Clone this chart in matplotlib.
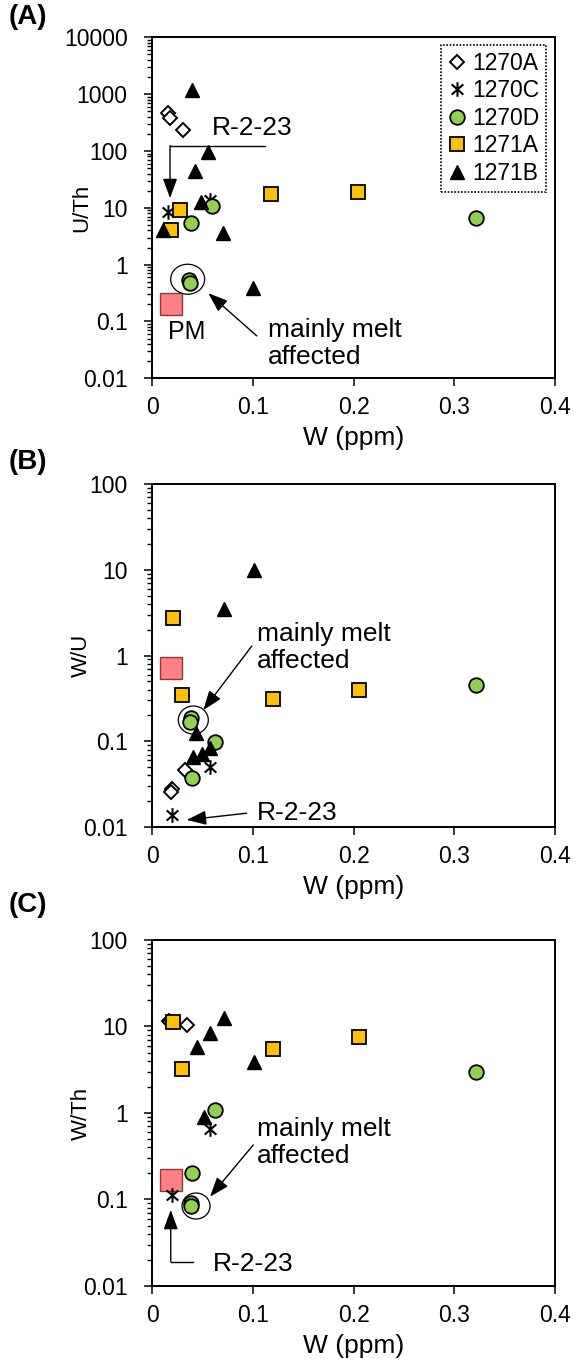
import matplotlib
matplotlib.use('Agg')
import matplotlib.pyplot as plt
import matplotlib.transforms as mtransforms
from matplotlib.path import Path
from matplotlib.patches import Ellipse
from matplotlib.ticker import LogLocator, FixedLocator, FuncFormatter, NullFormatter

plt.rcParams['font.family'] = ['Liberation Sans', 'DejaVu Sans']
TICK_FS = 16.5
YLAB_FS = 16
XLAB_FS = 19
NOTE_FS = 19

########## Data (W in ppm) ##########

groups = ['1270A', '1270C', '1270D', '1271A', '1271B']

# (A) U/Th
a_w = {
    '1270A': [0.016, 0.018, 0.031],
    '1270C': [0.016, 0.058],
    '1270D': [0.060, 0.039, 0.037, 0.038, 0.322],
    '1271A': [0.028, 0.019, 0.118, 0.204],
    '1271B': [0.040, 0.056, 0.043, 0.049, 0.011, 0.070, 0.100],
}
a_val = {
    '1270A': [460, 380, 234],
    '1270C': [8.6, 13.9],
    '1270D': [10.8, 5.5, 0.54, 0.47, 6.6],
    '1271A': [9.2, 4.1, 17.6, 19.3],
    '1271B': [1190, 94, 45, 12.9, 4.1, 3.6, 0.38],
}
a_pm = [0.019, 0.20]

# (B) W/U
b_w = {
    '1270A': [0.033, 0.0195, 0.019],
    '1270C': [0.058, 0.0195],
    '1270D': [0.039, 0.038, 0.0625, 0.040, 0.322],
    '1271A': [0.0205, 0.030, 0.120, 0.205],
    '1271B': [0.1015, 0.0715, 0.0437, 0.0576, 0.041, 0.050],
}
b_val = {
    '1270A': [0.046, 0.0277, 0.0258],
    '1270C': [0.050, 0.0138],
    '1270D': [0.185, 0.17, 0.099, 0.037, 0.45],
    '1271A': [2.76, 0.35, 0.31, 0.40],
    '1271B': [9.9, 3.46, 0.124, 0.083, 0.066, 0.072],
}
b_pm = [0.019, 0.71]

# (C) W/Th
c_w = {
    '1270A': [0.017, 0.018, 0.0344],
    '1270C': [0.058, 0.0195],
    '1270D': [0.0625, 0.040, 0.039, 0.039, 0.322],
    '1271A': [0.0205, 0.030, 0.120, 0.205],
    '1271B': [0.0718, 0.0576, 0.0444, 0.1015, 0.052],
}
c_val = {
    '1270A': [11.6, 11.2, 10.4],
    '1270C': [0.65, 0.113],
    '1270D': [1.08, 0.20, 0.090, 0.084, 3.0],
    '1271A': [11.4, 3.2, 5.45, 7.6],
    '1271B': [12.4, 8.5, 5.85, 3.9, 0.89],
}
c_pm = [0.019, 0.168]

########## Styles ##########

# asterisk = x plus vertical bar
ast = Path([(0, -1), (0, 1), (-0.8, -0.7), (0.8, 0.7), (-0.8, 0.7), (0.8, -0.7)],
           [Path.MOVETO, Path.LINETO, Path.MOVETO, Path.LINETO, Path.MOVETO, Path.LINETO])

styles = {
    '1270A': dict(marker='D', ms=7.5, mfc='white', mec='black', mew=1.4),
    '1270C': dict(marker=ast, ms=10.5, mfc='none', mec='black', mew=1.5),
    '1270D': dict(marker='o', ms=10.5, mfc='#92D050', mec='black', mew=1.3),
    '1271A': dict(marker='s', ms=10, mfc='#FFC000', mec='black', mew=1.3),
    '1271B': dict(marker='^', ms=10.5, mfc='black', mec='black', mew=1.0),
}

arrow = dict(arrowstyle='-|>,head_length=0.6,head_width=0.22', mutation_scale=20,
             color='black', lw=1.0, shrinkA=0, shrinkB=0)

fig = plt.figure(figsize=(5.76, 13.72), dpi=100)


def make_axes(rect, ymin, ymax, ylabel, letter, letter_y):
    ax = fig.add_axes(rect)
    ax.set_yscale('log')
    ax.set_xlim(0, 0.4)
    ax.set_ylim(ymin, ymax)
    ax.xaxis.set_major_locator(FixedLocator([0, 0.1, 0.2, 0.3, 0.4]))
    ax.xaxis.set_major_formatter(FuncFormatter(lambda v, p: '%g' % round(v, 2)))
    ax.yaxis.set_major_locator(LogLocator(base=10, numticks=20))
    ax.yaxis.set_minor_locator(LogLocator(base=10, subs=range(2, 10), numticks=20))
    ax.yaxis.set_minor_formatter(NullFormatter())
    ax.yaxis.set_major_formatter(FuncFormatter(lambda v, p: '%g' % v))
    ax.tick_params(axis='both', which='major', direction='out', length=6, width=1.1,
                   labelsize=TICK_FS)
    ax.tick_params(axis='x', which='major', pad=7)
    ax.tick_params(axis='y', which='major', pad=11.5)
    ax.tick_params(axis='y', which='minor', direction='out', length=3.5, width=1.0)
    for s in ax.spines.values():
        s.set_linewidth(1.4)
    ax.set_xlabel('W (ppm)', fontsize=XLAB_FS, labelpad=5)
    ax.set_ylabel(ylabel, fontsize=YLAB_FS)
    ax.yaxis.set_label_coords(-0.149, 0.5)
    ax.text(-0.357, letter_y, letter, transform=ax.transAxes, fontsize=20,
            fontweight='bold', ha='left', va='center')
    return ax


def plot_data(ax, pm, ws, vals):
    ax.plot(pm[0], pm[1], ls='none', marker='s', ms=15.5, mfc='#FF8080',
            mec='#8B3A3A', mew=1.0, zorder=2)
    handles = []
    for g in groups:
        h, = ax.plot(ws[g], vals[g], ls='none', label=g, zorder=3, **styles[g])
        handles.append(h)
    return handles


def ring(ax, x, y, w_px, h_px):
    tr = fig.dpi_scale_trans + mtransforms.ScaledTranslation(x, y, ax.transData)
    ax.add_patch(Ellipse((0, 0), w_px / 100, h_px / 100, transform=tr, fill=False,
                         lw=0.9, color='black', zorder=4))


def melt_label(ax, tx, ty, x0, y0, x1, y1):
    ax.text(tx, ty, 'mainly melt\naffected', fontsize=NOTE_FS, ha='left', va='center',
            linespacing=1.15)
    ax.annotate('', xy=(x1, y1), xytext=(x0, y0), arrowprops=arrow)


########## Panel A ##########
axA = make_axes([0.2639, 0.7243, 0.6997, 0.2485], 0.01, 10000, 'U/Th', '(A)', 1.06)
hs = plot_data(axA, a_pm, a_w, a_val)
leg = axA.legend(handles=hs, loc='upper right', bbox_to_anchor=(0.978, 0.978),
                 borderaxespad=0, fontsize=TICK_FS, handlelength=0.8, handletextpad=0.25,
                 labelspacing=0.2, borderpad=0.3, fancybox=False, framealpha=1)
leg.get_frame().set_edgecolor('black')
leg.get_frame().set_linestyle((0, (1, 1)))
leg.get_frame().set_linewidth(1.2)

axA.text(0.016, 0.066, 'PM', fontsize=18, ha='left', va='center')
ring(axA, 0.0354, 0.553, 34, 30)
melt_label(axA, 0.115, 0.0413, 0.104, 0.0556, 0.0559, 0.314)
axA.text(0.059, 251, 'R-2-23', fontsize=NOTE_FS, ha='left', va='center')
axA.plot([0.112, 0.0179], [124, 124], color='black', lw=1.0)
axA.annotate('', xy=(0.0179, 14.8), xytext=(0.0179, 124), arrowprops=arrow)

########## Panel B ##########
axB = make_axes([0.2639, 0.3972, 0.6997, 0.25], 0.01, 100, 'W/U', '(B)', 1.064)
plot_data(axB, b_pm, b_w, b_val)
ring(axB, 0.041, 0.177, 30, 28)
melt_label(axB, 0.104, 1.24, 0.099, 1.29, 0.0509, 0.231)
axB.text(0.104, 0.0146, 'R-2-23', fontsize=NOTE_FS, ha='left', va='center')
axB.annotate('', xy=(0.0344, 0.0121), xytext=(0.094, 0.0145), arrowprops=arrow)

########## Panel C ##########
axC = make_axes([0.2639, 0.0627, 0.6997, 0.2522], 0.01, 100, 'W/Th', '(C)', 1.10)
plot_data(axC, c_pm, c_w, c_val)
ring(axC, 0.0437, 0.084, 28, 26)
melt_label(axC, 0.104, 0.458, 0.1005, 0.427, 0.0576, 0.1077)
axC.text(0.0608, 0.018, 'R-2-23', fontsize=NOTE_FS, ha='left', va='center')
axC.plot([0.041, 0.0186], [0.0191, 0.0191], color='black', lw=1.0)
axC.annotate('', xy=(0.0186, 0.0757), xytext=(0.0186, 0.0191), arrowprops=arrow)

fig.savefig('out.png', dpi=100)
